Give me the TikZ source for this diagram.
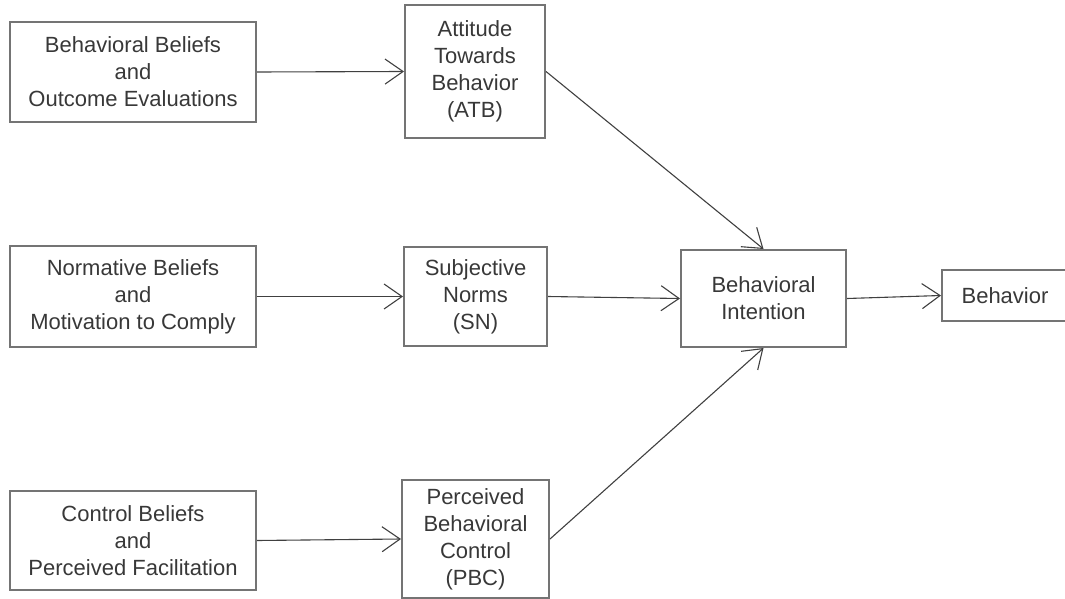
\documentclass[tikz,border=0pt]{standalone}
\usepackage{fontspec}
\setmainfont{Liberation Sans}
\usetikzlibrary{arrows.meta}
\definecolor{boxline}{HTML}{747474}
\definecolor{txt}{HTML}{383838}
\definecolor{arr}{HTML}{404040}
\begin{document}
\begin{tikzpicture}[x=1pt,y=-1pt,
  box/.style={draw=boxline,line width=2pt,rectangle,inner sep=0pt,align=center,
    text=txt,font=\fontsize{22}{27}\selectfont},
  conn/.style={draw=arr,line width=1.1pt,-{Straight Barb[length=18pt,width=25pt,line width=1.1pt]}}]
\useasboundingbox (0,0) rectangle (1065,599);
\node[box,minimum width=246pt,minimum height=100pt] (bb) at (133,72) {Behavioral Beliefs\\and\\Outcome Evaluations};
\node[box,minimum width=246pt,minimum height=101pt] (nb) at (133,296.5) {Normative Beliefs\\and\\Motivation to Comply};
\node[box,minimum width=246pt,minimum height=99pt] (cb) at (133,540.5) {Control Beliefs\\and\\Perceived Facilitation};
\node[box,minimum width=140pt,minimum height=133pt] (atb) at (475,71.5) {Attitude\\Towards\\Behavior\\(ATB)};
\node[box,minimum width=143pt,minimum height=99pt] (sn) at (475.5,296.5) {Subjective\\Norms\\(SN)};
\node[box,minimum width=147pt,minimum height=118pt] (pbc) at (475.5,539) {Perceived\\Behavioral\\Control\\(PBC)};
\node[box,minimum width=165pt,minimum height=97pt] (bi) at (763.5,298.5) {Behavioral\\Intention};
\node[box,minimum width=126pt,minimum height=51pt] (beh) at (1005,295.5) {Behavior};
\draw[conn] (bb.east) -- (atb.west);
\draw[conn] (nb.east) -- (sn.west);
\draw[conn] (cb.east) -- (pbc.west);
\draw[conn] (atb.east) -- (bi.north);
\draw[conn] (sn.east) -- (bi.west);
\draw[conn] (pbc.east) -- (bi.south);
\draw[conn] (bi.east) -- (beh.west);
\end{tikzpicture}
\end{document}
